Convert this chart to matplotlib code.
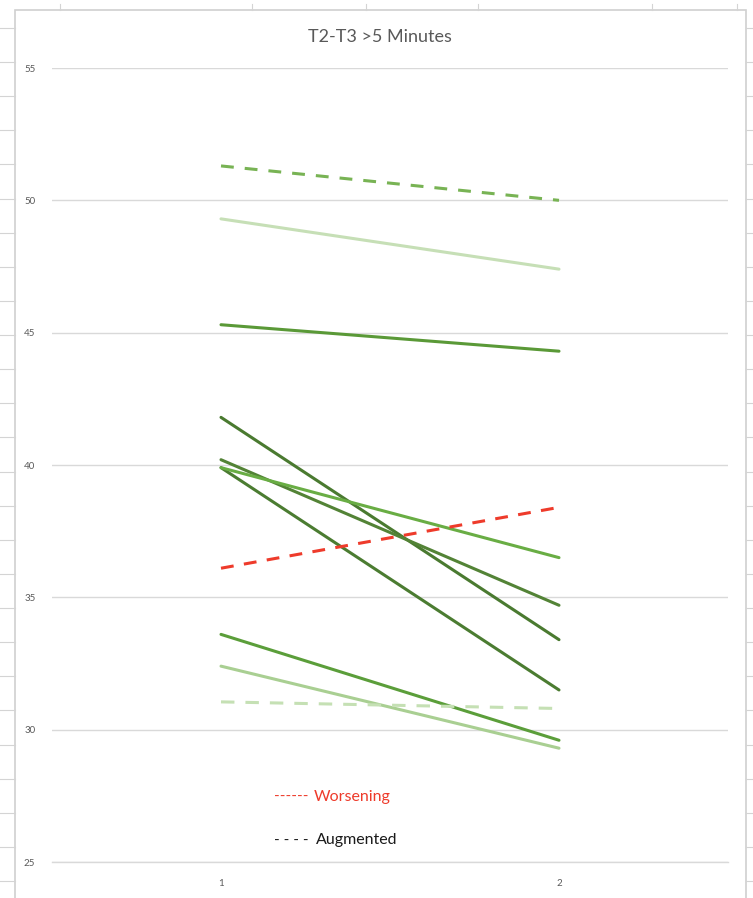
import matplotlib.pyplot as plt
from matplotlib.lines import Line2D
from matplotlib.patches import Rectangle

# categories on the x axis
categories = [1, 2]

# each series: (value at 1, value at 2)
augmented_top = [51.3, 50.0]
light_top = [49.3, 47.4]
mid_45 = [45.3, 44.3]
dark_41 = [41.8, 33.4]
dark_40 = [40.2, 34.7]
dark_39 = [39.9, 31.5]
bright_39 = [39.9, 36.5]
worsening = [36.1, 38.4]
mid_33 = [33.6, 29.6]
light_32 = [32.4, 29.3]
augmented_low = [31.05, 30.8]

y_ticks = [25, 30, 35, 40, 45, 50, 55]
title = 'T2-T3 >5 Minutes'

W, H = 753, 898
fig = plt.figure(figsize=(W / 100, H / 100), dpi=100)
plt.rcParams['font.family'] = ['Lato', 'DejaVu Sans']

# spreadsheet cells behind the chart
grid_col = '#D4D4D4'
for k in range(-1, 26):
    yy = 1 - (62 + 34.13 * k) / H
    fig.add_artist(Line2D([0, 15 / W], [yy, yy], color=grid_col, lw=0.8))
    fig.add_artist(Line2D([746 / W, 1], [yy, yy], color=grid_col, lw=0.8))
for xx in [60, 252, 366, 478, 652, 737]:
    fig.add_artist(Line2D([xx / W, xx / W], [1 - 4 / H, 1 - 10 / H], color=grid_col, lw=0.8))

# chart frame
fig.add_artist(Rectangle((15 / W, -0.01), (746 - 15) / W, 1.01 - 10 / H,
                         transform=fig.transFigure, facecolor='white',
                         edgecolor='#D0D0D0', lw=1.2, zorder=0))

ax = fig.add_axes([52 / W, 1 - 862 / H, (728 - 52) / W, (862 - 68) / H])
ax.set_facecolor('none')

series = [
    (augmented_top, '#78B354', (4.2, 3.6)),
    (light_top, '#C6DFB6', None),
    (mid_45, '#5A9937', None),
    (dark_41, '#4A7A30', None),
    (dark_40, '#538336', None),
    (dark_39, '#4B7C31', None),
    (bright_39, '#69AD44', None),
    (mid_33, '#5B9E3A', None),
    (light_32, '#A9CF92', None),
    (augmented_low, '#C5E0B4', (4.4, 3.6)),
    (worsening, '#EE3B2B', (4.2, 3.4)),
]

for vals, color, dashes in series:
    line, = ax.plot(categories, vals, color=color, lw=2.2, solid_capstyle='round')
    if dashes:
        line.set_dashes(dashes)
        line.set_dash_capstyle('butt')

ax.set_xlim(0.5, 2.5)
ax.set_ylim(25, 55)
ax.set_yticks(y_ticks)
ax.set_xticks(categories)
ax.set_xticklabels([str(c) for c in categories])
ax.yaxis.grid(True, color='#D9D9D9', lw=1.0)
ax.set_axisbelow(True)
for side in ['top', 'right', 'left']:
    ax.spines[side].set_visible(False)
ax.spines['bottom'].set_color('#D9D9D9')
ax.spines['bottom'].set_linewidth(1.0)
ax.tick_params(axis='both', length=0, labelsize=7, labelcolor='#595959')
ax.tick_params(axis='y', pad=12)
ax.tick_params(axis='x', pad=12)

fig.text(380 / W, 1 - 37 / H, title, ha='center', va='center',
         fontsize=13, color='#595959')

# hand-drawn legend text boxes
fig.text(274 / W, 1 - 797 / H, '------', ha='left', va='center',
         fontsize=11, color='#EE3B2B')
fig.text(314 / W, 1 - 797 / H, 'Worsening', ha='left', va='center',
         fontsize=11.5, color='#EE3B2B')
fig.text(274 / W, 1 - 840 / H, '- - - -', ha='left', va='center',
         fontsize=11, color='#1A1A1A')
fig.text(316 / W, 1 - 840 / H, 'Augmented', ha='left', va='center',
         fontsize=11.5, color='#1A1A1A')

fig.savefig('out.png', dpi=100)
